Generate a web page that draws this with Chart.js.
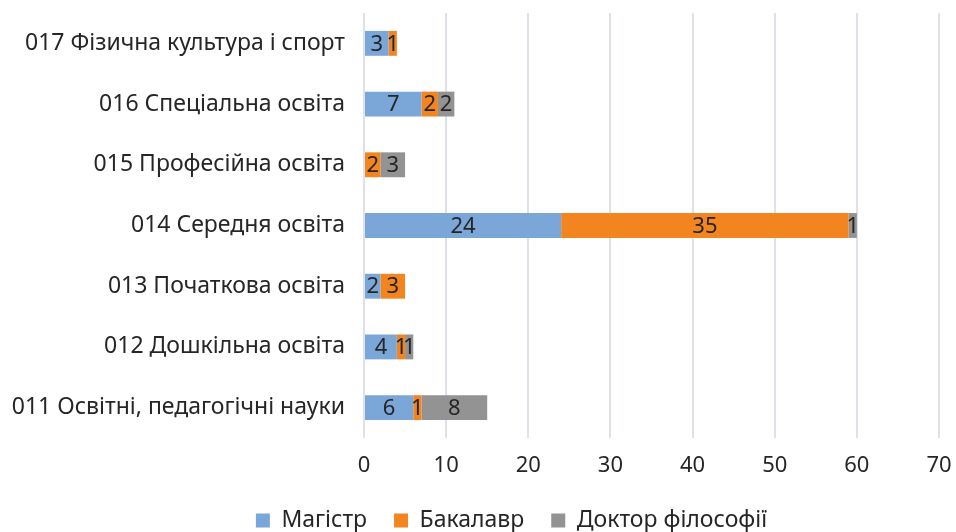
<!DOCTYPE html>
<html>
<head>
<meta charset="utf-8">
<script src="https://cdn.jsdelivr.net/npm/chart.js@4"></script>
<style>
  html, body { margin: 0; padding: 0; background: #fff; }
  #wrap { width: 956px; height: 532px; }
</style>
</head>
<body>
<div id="wrap"><canvas id="chart" width="956" height="532"></canvas></div>
<script>
const categories = [
    "017 Фізична культура і спорт",
    "016 Спеціальна освіта",
    "015 Професійна освіта",
    "014 Середня освіта",
    "013 Початкова освіта",
    "012 Дошкільна освіта",
    "011 Освітні, педагогічні науки"
];
const magistr = [3, 7, 0, 24, 2, 4, 6];
const bakalavr = [1, 2, 2, 35, 3, 1, 1];
const doktor = [0, 2, 3, 1, 0, 1, 8];
const xTicks = [0, 10, 20, 30, 40, 50, 60, 70];

const fontFamily = "'Noto Sans', sans-serif";

// підписи значень по центру сегментів + положення легенди
const valueLabels = {
    id: "valueLabels",
    afterLayout(chart) {
        const lg = chart.legend;
        lg.left += 36;
        lg.right += 36;
        const h = lg.height;
        lg.top = 482;
        lg.bottom = 482 + h;
    },
    afterDatasetsDraw(chart) {
        const ctx = chart.ctx;
        ctx.save();
        ctx.font = "22px " + fontFamily;
        ctx.fillStyle = "#262626";
        ctx.textAlign = "center";
        ctx.textBaseline = "middle";
        chart.data.datasets.forEach((ds, i) => {
            chart.getDatasetMeta(i).data.forEach((bar, j) => {
                const v = ds.data[j];
                if (!v) return;
                const cx = (bar.x + bar.base) / 2;
                ctx.fillText(String(v), cx, bar.y + 1);
            });
        });
        ctx.restore();
    }
};

new Chart(document.getElementById("chart").getContext("2d"), {
    type: "bar",
    data: {
        labels: categories,
        datasets: [
            { label: "Магістр", data: magistr, backgroundColor: "#7aa6d8" },
            { label: "Бакалавр", data: bakalavr, backgroundColor: "#f28520" },
            { label: "Доктор філософії", data: doktor, backgroundColor: "#939393" }
        ]
    },
    options: {
        indexAxis: "y",
        responsive: false,
        animation: false,
        layout: { padding: { left: 12, right: 17, top: 13, bottom: 0 } },
        datasets: { bar: { barPercentage: 0.82, categoryPercentage: 0.5 } },
        scales: {
            x: {
                stacked: true,
                min: 0,
                max: 70,
                afterBuildTicks: (axis) => { axis.ticks = xTicks.map(v => ({ value: v })); },
                grid: { color: "#dde2ea", lineWidth: 2, drawTicks: false },
                border: { display: false },
                ticks: { color: "#262626", font: { family: fontFamily, size: 22 }, padding: 15 },
                afterFit: (axis) => {
                    const lg = axis.chart.legend;
                    axis.height = Math.max(0, 532 - 438 - (lg ? lg.height : 0));
                    axis.paddingLeft = 0;
                    axis.paddingRight = 0;
                }
            },
            y: {
                stacked: true,
                grid: { display: false },
                border: { display: false },
                ticks: { color: "#262626", font: { family: fontFamily, size: 23 }, padding: 11 },
                afterFit: (axis) => {
                    axis.width = 352;
                    axis.paddingTop = 0;
                    axis.paddingBottom = 0;
                }
            }
        },
        plugins: {
            legend: {
                position: "bottom",
                labels: {
                    color: "#262626",
                    font: { family: fontFamily, size: 23 },
                    boxWidth: 14,
                    boxHeight: 14,
                    padding: 27
                }
            },
            tooltip: { enabled: false }
        }
    },
    plugins: [valueLabels]
});
</script>
</body>
</html>
